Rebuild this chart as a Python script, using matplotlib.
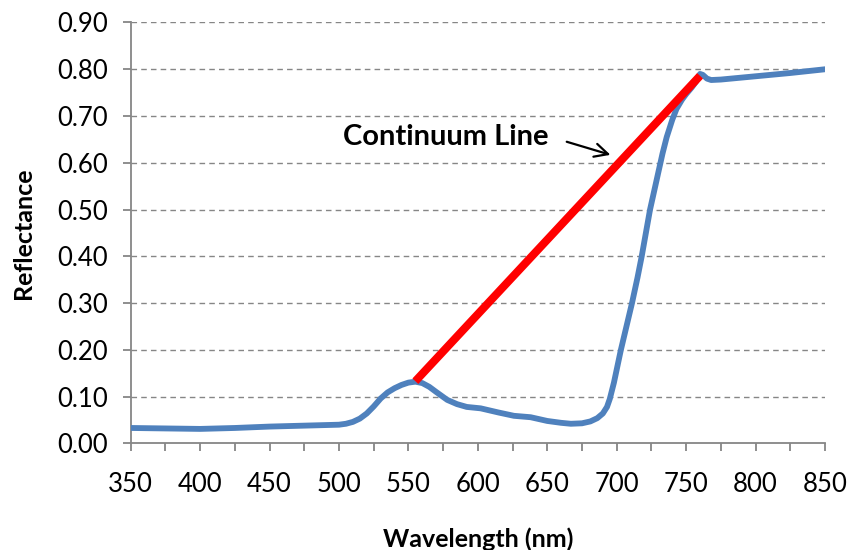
import numpy as np
import matplotlib
matplotlib.use('Agg')
import matplotlib.pyplot as plt
from matplotlib.ticker import MultipleLocator, FormatStrFormatter

plt.rcParams['font.family'] = ['Lato', 'DejaVu Sans']

# reflectance spectrum
wavelength = [350, 375, 400, 425, 450, 475, 500, 505, 510, 515, 520, 525, 530, 535,
              540, 545, 550, 555, 560, 565, 570, 578, 585, 592, 602, 615, 626, 638,
              650, 660, 667, 675, 681, 686, 690, 693, 695, 698, 703, 707, 711, 715,
              718, 721, 724, 727, 730, 733, 736, 740, 743, 747, 750, 754, 757, 760,
              762, 765, 768, 775, 800, 825, 850]
reflectance = [0.033, 0.032, 0.031, 0.033, 0.036, 0.038, 0.040, 0.042, 0.046, 0.053,
               0.064, 0.079, 0.096, 0.109, 0.118, 0.125, 0.130, 0.132, 0.129, 0.121,
               0.110, 0.093, 0.084, 0.078, 0.075, 0.066, 0.059, 0.056, 0.048, 0.044,
               0.042, 0.043, 0.047, 0.054, 0.064, 0.078, 0.095, 0.130, 0.200, 0.250,
               0.300, 0.355, 0.400, 0.450, 0.500, 0.540, 0.580, 0.620, 0.655, 0.692,
               0.715, 0.735, 0.747, 0.761, 0.773, 0.790, 0.788, 0.780, 0.777, 0.778,
               0.785, 0.792, 0.800]

# continuum line end points
cont_x = [555, 760]
cont_y = [0.133, 0.786]

fig = plt.figure(figsize=(8.48, 5.5), dpi=100)
ax = fig.add_axes([0.1541, 0.1938, 0.8188, 0.7653])

gray = '#868686'
for v in np.arange(0.1, 0.95, 0.1):
    ax.axhline(v, color=gray, lw=1.0, ls=(0, (4, 3)), zorder=1)

ax.plot(wavelength, reflectance, color='#4F81BD', lw=4.2,
        solid_joinstyle='round', solid_capstyle='round', zorder=3)
ax.plot(cont_x, cont_y, color='#FF0000', lw=5.8, solid_capstyle='butt', zorder=4)

ax.text(577, 0.655, 'Continuum Line', fontsize=21, fontweight='bold',
        ha='center', va='center')
ax.annotate('', xy=(695.5, 0.617), xytext=(664, 0.645),
            arrowprops=dict(arrowstyle='->', lw=1.6, color='black',
                            mutation_scale=24, shrinkA=0, shrinkB=0))

ax.set_xlim(350, 850)
ax.set_ylim(0, 0.9)
ax.xaxis.set_major_locator(MultipleLocator(50))
ax.xaxis.set_minor_locator(MultipleLocator(25))
ax.yaxis.set_major_locator(MultipleLocator(0.1))
ax.yaxis.set_major_formatter(FormatStrFormatter('%.2f'))

for s in ['top', 'right']:
    ax.spines[s].set_visible(False)
for s in ['left', 'bottom']:
    ax.spines[s].set_color(gray)
    ax.spines[s].set_linewidth(1.3)

ax.tick_params(axis='x', which='both', direction='out', length=5.5, width=1.3,
               color=gray, labelsize=18.5, pad=15)
ax.tick_params(axis='y', which='major', direction='out', length=5.5, width=1.3,
               color=gray, labelsize=18.5, pad=11)

ax.set_xlabel('Wavelength (nm)', fontsize=18, fontweight='bold', labelpad=22)
ax.set_ylabel('Reflectance', fontsize=18, fontweight='bold', labelpad=16)

fig.savefig('out.png', dpi=100)
